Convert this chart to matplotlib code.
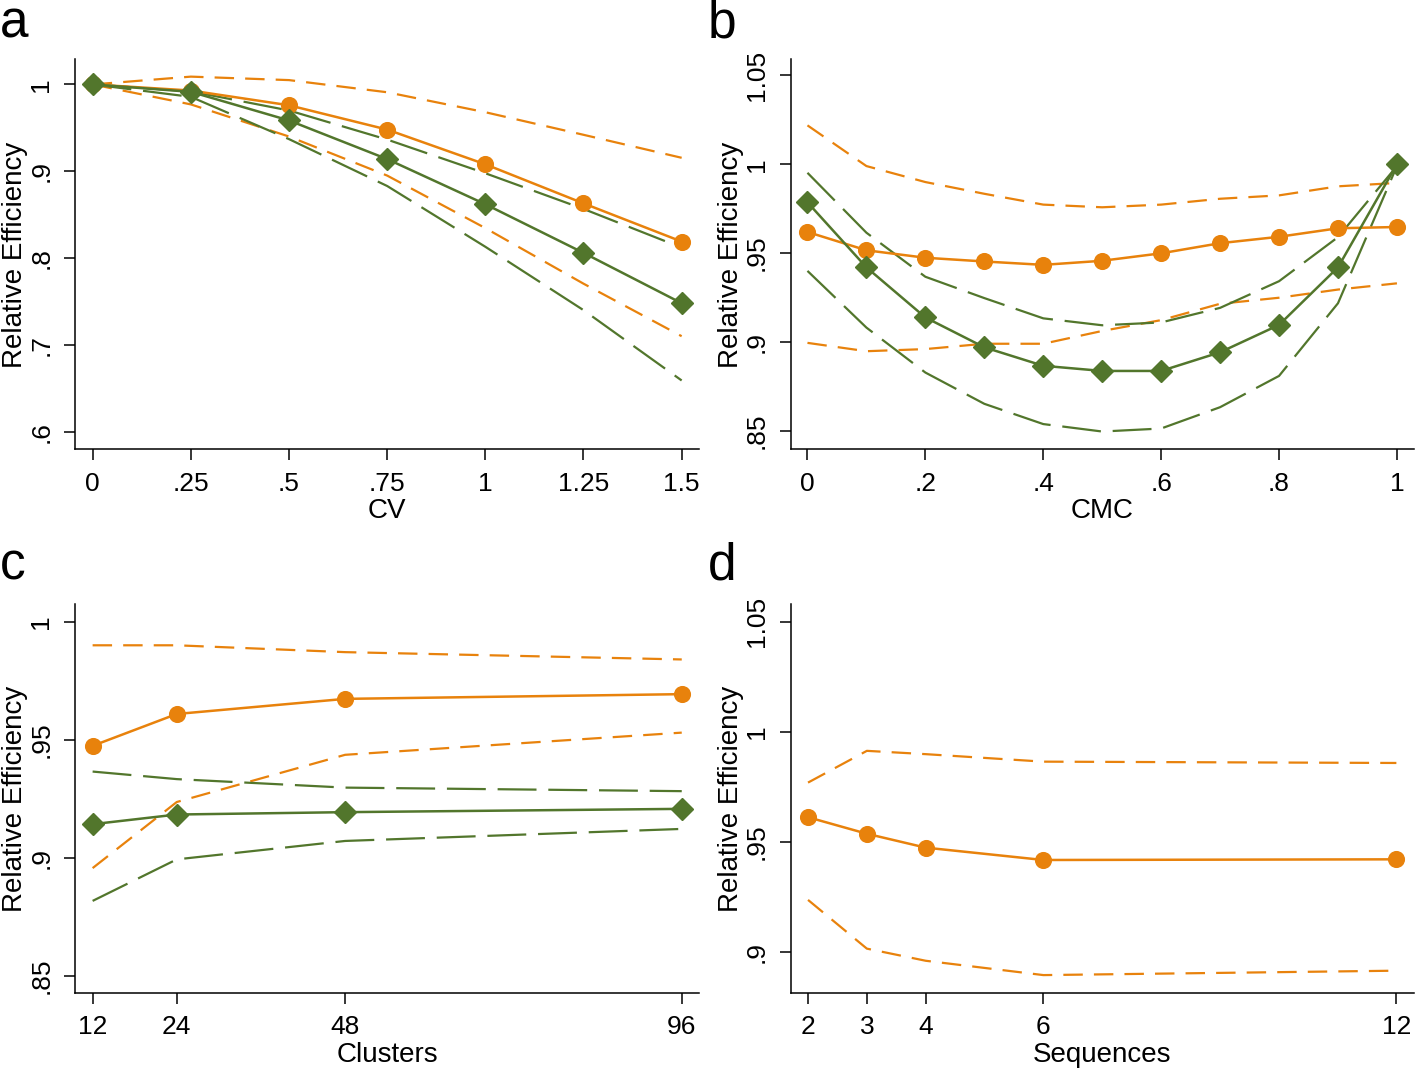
import matplotlib
matplotlib.use("Agg")
import matplotlib.pyplot as plt

plt.rcParams['font.family'] = ['Liberation Sans', 'DejaVu Sans']
plt.rcParams['lines.scale_dashes'] = False

ORANGE = '#E8820C'
GREEN = '#52762C'

# panel a: CV
cv = [0, 0.25, 0.5, 0.75, 1, 1.25, 1.5]
a_orange = [1.0, 0.993, 0.976, 0.948, 0.908, 0.863, 0.819]
a_orange_hi = [1.0, 1.009, 1.005, 0.991, 0.968, 0.942, 0.9155]
a_orange_lo = [1.0, 0.977, 0.940, 0.895, 0.8345, 0.7705, 0.710]
a_green = [1.0, 0.9915, 0.9585, 0.914, 0.862, 0.806, 0.748]
a_green_hi = [1.0, 0.992, 0.970, 0.9365, 0.8977, 0.8566, 0.812]
a_green_lo = [1.0, 0.9857, 0.937, 0.883, 0.813, 0.740, 0.659]

# panel b: CMC
cmc = [0, 0.1, 0.2, 0.3, 0.4, 0.5, 0.6, 0.7, 0.8, 0.9, 1.0]
b_orange = [0.9619, 0.9516, 0.9474, 0.9453, 0.9434, 0.9457, 0.9499, 0.9556, 0.9592, 0.964, 0.9647]
b_orange_hi = [1.0219, 0.999, 0.990, 0.9834, 0.9773, 0.9758, 0.9773, 0.9806, 0.9825, 0.9876, 0.9895]
b_orange_lo = [0.8995, 0.8948, 0.896, 0.899, 0.899, 0.9062, 0.9123, 0.9215, 0.9249, 0.9295, 0.933]
b_green = [0.9786, 0.942, 0.9138, 0.897, 0.8866, 0.8837, 0.8837, 0.8942, 0.9096, 0.942, 1.0]
b_green_hi = [0.9952, 0.9615, 0.9367, 0.9247, 0.9133, 0.9094, 0.911, 0.9192, 0.9342, 0.959, 0.999]
b_green_lo = [0.940, 0.9081, 0.8828, 0.8652, 0.8538, 0.8496, 0.8513, 0.8633, 0.8809, 0.9218, 0.999]

# panel c: clusters
clusters = [12, 24, 48, 96]
c_orange = [0.9474, 0.9609, 0.9673, 0.9693]
c_orange_hi = [0.990, 0.990, 0.9871, 0.984]
c_orange_lo = [0.8956, 0.9236, 0.9436, 0.953]
c_green = [0.9142, 0.9183, 0.9193, 0.9207]
c_green_hi = [0.9365, 0.9333, 0.9297, 0.9282]
c_green_lo = [0.8817, 0.8993, 0.9071, 0.9122]

# panel d: sequences
sequences = [2, 3, 4, 6, 12]
d_orange = [0.9613, 0.9538, 0.9475, 0.9419, 0.9422]
d_orange_hi = [0.977, 0.9914, 0.9899, 0.9865, 0.9859]
d_orange_lo = [0.9238, 0.9017, 0.8962, 0.8897, 0.8917]


def fmt(v):
    s = '%g' % v
    if s.startswith('0.'):
        s = s[1:]
    return s


def draw_panel(ax, x, orange, orange_hi, orange_lo, green=None, green_hi=None, green_lo=None,
               xticks=None, yticks=None, xlim=None, ylim=None, xlabel=''):
    ax.plot(x, orange_hi, color=ORANGE, lw=1.6, dashes=(14, 8))
    ax.plot(x, orange_lo, color=ORANGE, lw=1.6, dashes=(14, 8))
    if green is not None:
        ax.plot(x, green_hi, color=GREEN, lw=1.6, dashes=(28, 8.5))
        ax.plot(x, green_lo, color=GREEN, lw=1.6, dashes=(28, 8.5))
    ax.plot(x, orange, color=ORANGE, lw=1.8, marker='o', ms=11.3, mec=ORANGE, mfc=ORANGE)
    if green is not None:
        ax.plot(x, green, color=GREEN, lw=1.8, marker='D', ms=10.8, mec=GREEN, mfc=GREEN)

    ax.set_xlim(*xlim)
    ax.set_ylim(*ylim)
    ax.set_xticks(xticks)
    ax.set_xticklabels([fmt(v) for v in xticks])
    ax.set_yticks(yticks)
    ax.set_yticklabels([fmt(v) for v in yticks], rotation=90, va='center')
    ax.set_xlabel(xlabel, fontsize=20, labelpad=2)
    ax.set_ylabel('Relative Efficiency', fontsize=20)
    ax.yaxis.set_label_coords(-0.076, 0.5)
    for side in ('top', 'right'):
        ax.spines[side].set_visible(False)
    for side in ('left', 'bottom'):
        ax.spines[side].set_linewidth(1.1)
    ax.tick_params(direction='out', length=8, width=1.1, labelsize=19, pad=8)


fig = plt.figure(figsize=(14.18, 10.73), dpi=100)

ax_a = fig.add_axes([0.0532, 0.5811, 0.4397, 0.3635])
ax_b = fig.add_axes([0.5578, 0.5811, 0.4394, 0.3635])
ax_c = fig.add_axes([0.0532, 0.0746, 0.4397, 0.3625])
ax_d = fig.add_axes([0.5578, 0.0746, 0.4394, 0.3625])

draw_panel(ax_a, cv, a_orange, a_orange_hi, a_orange_lo, a_green, a_green_hi, a_green_lo,
           xticks=cv, yticks=[0.6, 0.7, 0.8, 0.9, 1.0],
           xlim=(-0.044, 1.544), ylim=(0.5795, 1.0288), xlabel='CV')
draw_panel(ax_b, cmc, b_orange, b_orange_hi, b_orange_lo, b_green, b_green_hi, b_green_lo,
           xticks=[0, 0.2, 0.4, 0.6, 0.8, 1.0], yticks=[0.85, 0.9, 0.95, 1.0, 1.05],
           xlim=(-0.028, 1.029), ylim=(0.8395, 1.059), xlabel='CMC')
draw_panel(ax_c, clusters, c_orange, c_orange_hi, c_orange_lo, c_green, c_green_hi, c_green_lo,
           xticks=clusters, yticks=[0.85, 0.9, 0.95, 1.0],
           xlim=(9.55, 98.45), ylim=(0.8427, 1.0075), xlabel='Clusters')
draw_panel(ax_d, sequences, d_orange, d_orange_hi, d_orange_lo,
           xticks=sequences, yticks=[0.9, 0.95, 1.0, 1.05],
           xlim=(1.71, 12.3), ylim=(0.8816, 1.058), xlabel='Sequences')

for letter, xf, yf in [('a', 0.0, 1 - 37 / 1073), ('b', 0.499, 1 - 37 / 1073),
                       ('c', 0.0, 1 - 579 / 1073), ('d', 0.499, 1 - 579 / 1073)]:
    fig.text(xf, yf, letter, fontsize=37, va='baseline', ha='left')

fig.savefig('out.png', dpi=100)
